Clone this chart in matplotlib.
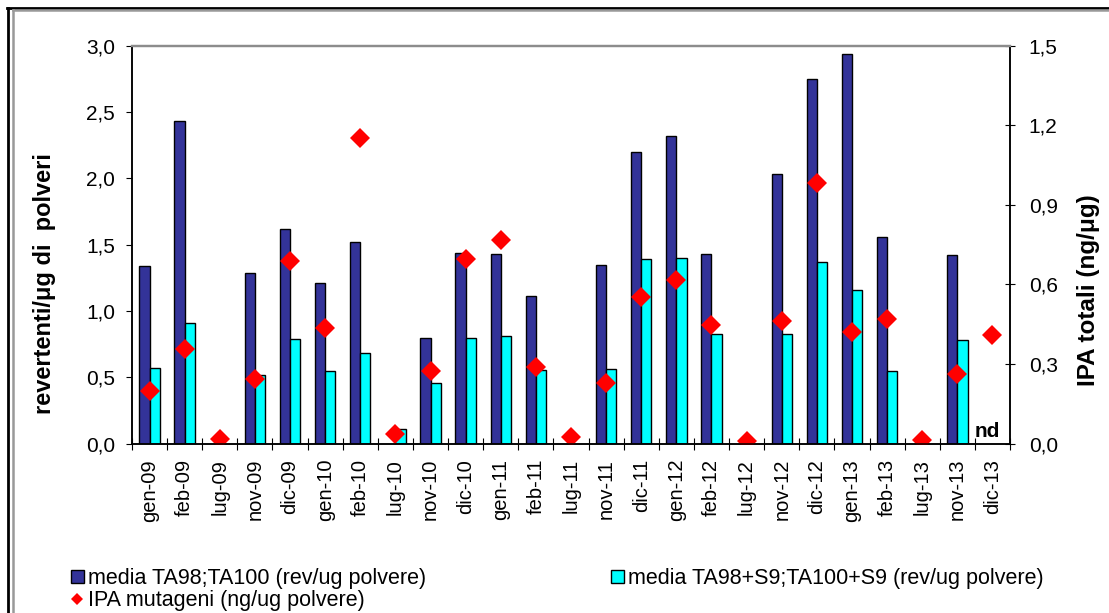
import numpy as np
import matplotlib
matplotlib.use("Agg")
import matplotlib.pyplot as plt
from matplotlib.lines import Line2D

plt.rcParams['font.family'] = ['Liberation Sans', 'DejaVu Sans']

categories = ["gen-09", "feb-09", "lug-09", "nov-09", "dic-09", "gen-10", "feb-10", "lug-10",
              "nov-10", "dic-10", "gen-11", "feb-11", "lug-11", "nov-11", "dic-11", "gen-12",
              "feb-12", "lug-12", "nov-12", "dic-12", "gen-13", "feb-13", "lug-13", "nov-13",
              "dic-13"]

media_ta = [1.34, 2.43, None, 1.29, 1.62, 1.21, 1.52, None, 0.80, 1.44, 1.43, 1.11, None,
            1.35, 2.20, 2.32, 1.43, None, 2.03, 2.75, 2.94, 1.56, None, 1.42, None]
media_s9 = [0.57, 0.91, None, 0.52, 0.79, 0.55, 0.68, 0.11, 0.46, 0.80, 0.81, 0.555, None,
            0.56, 1.39, 1.40, 0.83, None, 0.83, 1.37, 1.16, 0.55, None, 0.78, None]
ipa = [0.20, 0.357, 0.017, 0.243, 0.687, 0.437, 1.153, 0.035, 0.274, 0.695, 0.769, 0.29,
       0.026, 0.23, 0.554, 0.617, 0.447, 0.01, 0.462, 0.984, 0.422, 0.47, 0.014, 0.262, 0.41]

left_ticks = [0.0, 0.5, 1.0, 1.5, 2.0, 2.5, 3.0]
right_ticks = [0.0, 0.3, 0.6, 0.9, 1.2, 1.5]

def fmt(v):
    return f"{v:.1f}".replace(".", ",")

W, H = 1109, 613
fig = plt.figure(figsize=(W / 100, H / 100), dpi=100)

def fx(px):
    return px / W

def fy(py):
    return 1 - py / H

ax_l, ax_r, ax_t, ax_b = 132, 1010, 45.7, 443.7
ax = fig.add_axes([fx(ax_l), fy(ax_b), (ax_r - ax_l) / W, (ax_b - ax_t) / H])
ax2 = ax.twinx()

x = np.arange(len(categories))
ta = np.array([np.nan if v is None else v for v in media_ta], dtype=float)
s9 = np.array([np.nan if v is None else v for v in media_s9], dtype=float)
bw = 0.29
b1 = ax.bar(x - bw / 2, ta, width=bw, color="#333399", edgecolor="black", linewidth=1.0,
            label="media TA98;TA100 (rev/ug polvere)")
b2 = ax.bar(x + bw / 2, s9, width=bw, color="#00FFFF", edgecolor="black", linewidth=1.0,
            label="media TA98+S9;TA100+S9 (rev/ug polvere)")
ax2.plot(x, ipa, linestyle="none", marker="D", markersize=10.5, color="#FF0000",
         markeredgewidth=0)

ax.set_xlim(-0.5, len(categories) - 0.5)
ax.set_ylim(0, 3.0)
ax2.set_ylim(0, 1.5)

ax.set_yticks(left_ticks)
ax.set_yticklabels([fmt(v) for v in left_ticks], fontsize=15)
ax2.set_yticks(right_ticks)
ax2.set_yticklabels([fmt(v) for v in right_ticks], fontsize=15)

ax.set_xticks(x)
ax.set_xticklabels(categories, rotation=90, fontsize=14.5)
ax.set_xticks(np.arange(-0.5, len(categories), 1.0), minor=True)
ax.tick_params(axis="x", which="major", length=0, pad=11)
ax.tick_params(axis="x", which="minor", direction="inout", length=8.6, width=0.8)
ax.tick_params(axis="y", which="major", direction="out", length=4.3, width=0.8, pad=8.0)
ax2.tick_params(axis="y", which="major", direction="inout", length=7, width=0.8, pad=10.0)

ax.text(23.85, 0.05, "nd", fontsize=15, fontweight="bold", ha="center", va="baseline")

for a in (ax, ax2):
    a.spines["top"].set_color("#8c8c8c")
    a.spines["top"].set_linewidth(1.6)
    for s in ("left", "right", "bottom"):
        a.spines[s].set_color("black")
        a.spines[s].set_linewidth(1.1)
ax2.patch.set_visible(False)

ax.set_ylabel("revertenti/μg di  polveri", fontsize=17, fontweight="bold", va="center")
ax.yaxis.set_label_coords((45 - ax_l) / (ax_r - ax_l), (ax_b - 283.5) / (ax_b - ax_t))
ax2.set_ylabel("IPA totali (ng/μg)", fontsize=17.5, fontweight="bold", va="center", rotation=90)
ax2.yaxis.set_label_coords((1088 - ax_l) / (ax_r - ax_l), (ax_b - 290) / (ax_b - ax_t))

# outer chart frame (double border)
fig.add_artist(Line2D([fx(8), fx(8)], [fy(7.5), 0], color="black", lw=2.0))
fig.add_artist(Line2D([fx(7.2), 1], [fy(7.5), fy(7.5)], color="black", lw=2.0))
fig.add_artist(Line2D([fx(12.5), fx(12.5)], [fy(9.5), 0], color="#999999", lw=1.8))
fig.add_artist(Line2D([fx(12.5), 1], [fy(9.5), fy(9.5)], color="#999999", lw=1.8))

ipa_proxy = Line2D([], [], linestyle="none", marker="D", markersize=6.5, color="#FF0000",
                   markeredgewidth=0)
leg_kw = dict(frameon=False, fontsize=15.5, handlelength=0.6, handleheight=0.6,
              handletextpad=0.2, labelspacing=0.05, borderpad=0, borderaxespad=0)
leg1 = fig.legend([b1, ipa_proxy], ["media TA98;TA100 (rev/ug polvere)", "IPA mutageni (ng/ug polvere)"],
                  loc="upper left", bbox_to_anchor=(fx(71), fy(568)), **leg_kw)
leg2 = fig.legend([b2], ["media TA98+S9;TA100+S9 (rev/ug polvere)"],
                  loc="upper left", bbox_to_anchor=(fx(611), fy(568)), **leg_kw)

fig.savefig("out.png", dpi=100)
